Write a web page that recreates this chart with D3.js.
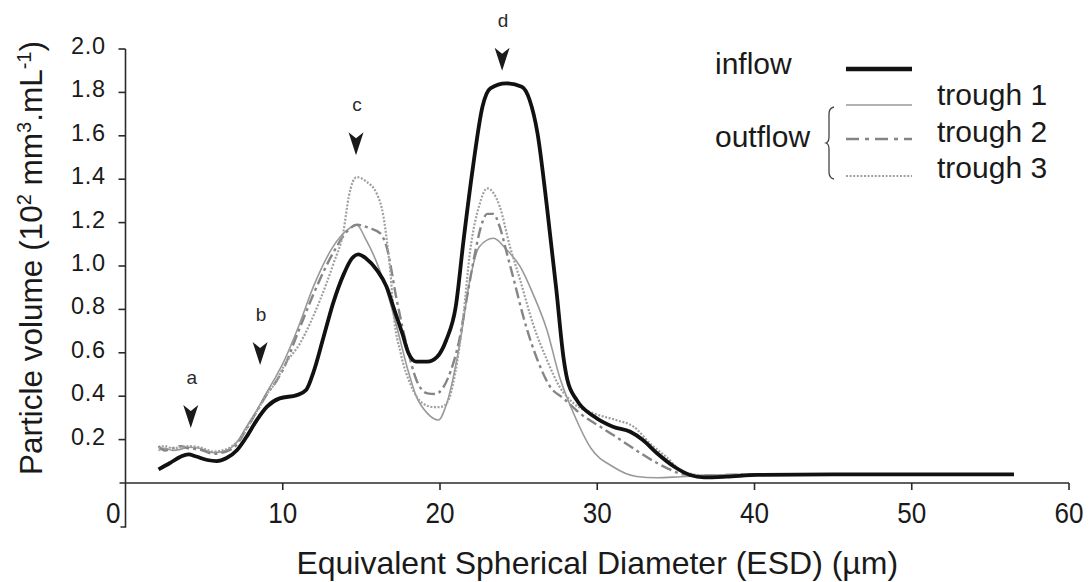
<!DOCTYPE html>
<html><head><meta charset="utf-8">
<script src="https://cdn.jsdelivr.net/npm/d3@7"></script>
<style>
body{margin:0;background:#fff;}
svg{display:block;font-family:"Liberation Sans",Arial,Helvetica,sans-serif;}
</style></head>
<body><svg id="c" width="1091" height="582"></svg>
<script>
// ---- data ----
const xTicks = [0, 10, 20, 30, 40, 50, 60];
const yTicks = [0.2, 0.4, 0.6, 0.8, 1.0, 1.2, 1.4, 1.6, 1.8, 2.0];

const inflowX = [2.1, 2.8, 3.5, 4.0, 4.5, 5.2, 5.8, 6.4, 7.1, 7.7, 8.35, 9.0, 9.8, 10.9, 11.5, 11.95, 12.6, 13.2, 13.9, 14.4, 14.8, 15.3, 16.0, 16.6, 17.1, 17.6, 18.0, 18.5, 19.2, 19.8, 20.4, 21.0, 21.5, 22.1, 22.7, 23.2, 24.2, 25.2, 25.7, 26.2, 26.8, 27.4, 27.85, 28.1, 28.7, 29.8, 31.0, 32.1, 32.9, 33.8, 34.9, 35.9, 36.8, 38.2, 40.2, 45, 50, 56.5];
const inflowV = [0.063, 0.091, 0.121, 0.132, 0.122, 0.106, 0.101, 0.114, 0.152, 0.213, 0.29, 0.352, 0.39, 0.405, 0.43, 0.51, 0.674, 0.828, 0.966, 1.035, 1.054, 1.035, 0.98, 0.905, 0.797, 0.69, 0.598, 0.559, 0.559, 0.58, 0.659, 0.812, 1.12, 1.458, 1.734, 1.819, 1.842, 1.826, 1.765, 1.612, 1.273, 0.889, 0.58, 0.475, 0.382, 0.306, 0.259, 0.236, 0.198, 0.137, 0.075, 0.037, 0.026, 0.029, 0.037, 0.04, 0.04, 0.04];

const trough1X = [2.1, 2.5, 3.0, 3.5, 4.0, 4.7, 5.6, 6.4, 7.1, 7.7, 8.35, 9.0, 9.6, 10.0, 11.0, 11.95, 13.2, 14.1, 14.7, 15.3, 16.0, 16.6, 17.25, 17.9, 18.5, 19.2, 19.9, 20.4, 21.3, 21.9, 22.5, 23.4, 24.25, 25.1, 25.9, 26.8, 27.6, 28.5, 29.6, 31.0, 32.5, 33.8, 35.3, 37, 40, 45, 50, 56.5];
const trough1V = [0.15, 0.16, 0.15, 0.155, 0.165, 0.16, 0.14, 0.15, 0.19, 0.26, 0.336, 0.42, 0.495, 0.55, 0.72, 0.905, 1.089, 1.166, 1.189, 1.12, 1.012, 0.889, 0.72, 0.536, 0.398, 0.321, 0.29, 0.36, 0.66, 0.935, 1.089, 1.128, 1.074, 0.997, 0.874, 0.705, 0.49, 0.32, 0.16, 0.075, 0.03, 0.024, 0.029, 0.035, 0.04, 0.04, 0.04, 0.04];

const trough2X = [2.1, 2.5, 3.0, 3.5, 4.0, 4.7, 5.6, 6.4, 7.1, 7.7, 8.35, 9.0, 9.6, 10.0, 11.0, 11.95, 13.2, 14.1, 14.7, 15.5, 16.2, 16.6, 17.25, 17.9, 18.5, 19.2, 19.7, 20.2, 20.7, 21.2, 21.7, 22.2, 22.6, 23.0, 23.4, 23.8, 24.25, 24.7, 25.3, 26.2, 27.0, 27.85, 28.9, 30.2, 31.5, 32.7, 33.6, 34.4, 35.5, 37, 40, 45, 50, 56.5];
const trough2V = [0.17, 0.15, 0.16, 0.17, 0.16, 0.155, 0.135, 0.145, 0.18, 0.25, 0.33, 0.41, 0.47, 0.52, 0.7, 0.87, 1.06, 1.16, 1.19, 1.175, 1.15, 1.089, 0.843, 0.628, 0.475, 0.413, 0.41, 0.44, 0.52, 0.65, 0.85, 1.05, 1.18, 1.24, 1.24, 1.18, 1.059, 0.935, 0.766, 0.567, 0.444, 0.39, 0.321, 0.259, 0.198, 0.14, 0.1, 0.07, 0.04, 0.035, 0.04, 0.04, 0.04, 0.04];

const trough3X = [2.1, 2.5, 3.0, 3.5, 4.0, 4.7, 5.6, 6.4, 7.1, 7.7, 8.35, 9.0, 9.6, 10.0, 11.1, 12.37, 13.22, 13.86, 14.2, 14.7, 15.3, 16.0, 16.4, 16.65, 16.85, 17.05, 17.5, 18.1, 18.9, 19.6, 20.0, 20.45, 20.95, 21.5, 21.9, 22.5, 23.0, 23.8, 24.45, 25.1, 25.9, 26.8, 27.6, 28.5, 29.8, 31.2, 32.3, 33.4, 34.4, 35.5, 37, 40, 45, 50, 56.5];
const trough3V = [0.16, 0.17, 0.16, 0.165, 0.17, 0.165, 0.145, 0.155, 0.19, 0.25, 0.33, 0.41, 0.47, 0.53, 0.644, 0.843, 1.01, 1.16, 1.32, 1.41, 1.39, 1.33, 1.23, 1.1, 0.966, 0.782, 0.598, 0.459, 0.367, 0.35, 0.35, 0.37, 0.5, 0.78, 1.06, 1.28, 1.358, 1.274, 1.089, 0.935, 0.736, 0.567, 0.444, 0.367, 0.32, 0.29, 0.26, 0.18, 0.12, 0.05, 0.035, 0.04, 0.04, 0.04, 0.04];

const markerLabels = ["a", "b", "c", "d"];
const markerX = [4.15, 8.56, 14.66, 23.95];
const markerV = [0.253, 0.544, 1.51, 1.90];

const legendNames = ["inflow", "trough 1", "trough 2", "trough 3"];

// ---- drawing ----
const svg = d3.select("#c");
const x = d3.scaleLinear().domain([0, 60]).range([125.5, 1069]);
const y = d3.scaleLinear().domain([0, 2]).range([483, 49]);
const axisColor = "#2a2a2a";
const textColor = "#1a1a1a";

// y axis line (extends below the x axis, bracket-like)
svg.append("path").attr("d", `M${x(0)},${y(2)}V527H${x(0) - 5}`)
  .attr("fill", "none").attr("stroke", axisColor).attr("stroke-width", 1.6);
// x axis line
svg.append("line").attr("x1", x(0) - 6).attr("x2", x(60)).attr("y1", y(0)).attr("y2", y(0))
  .attr("stroke", axisColor).attr("stroke-width", 1.6);

// y ticks
const yt = svg.append("g");
yt.selectAll("line").data(yTicks).join("line")
  .attr("x1", x(0) - 7).attr("x2", x(0)).attr("y1", d => y(d)).attr("y2", d => y(d))
  .attr("stroke", axisColor).attr("stroke-width", 1.6);
yt.selectAll("text").data(yTicks).join("text")
  .attr("x", 106).attr("y", d => y(d) + 5)
  .attr("text-anchor", "end").attr("font-size", 23.5).attr("fill", textColor)
  .attr("letter-spacing", 0.8)
  .text(d => d3.format(".1f")(d));

// x ticks
const xt = svg.append("g");
xt.selectAll("line").data(xTicks.filter(d => d > 0)).join("line")
  .attr("x1", d => x(d)).attr("x2", d => x(d)).attr("y1", y(0)).attr("y2", y(0) + 7)
  .attr("stroke", axisColor).attr("stroke-width", 1.6);
xt.selectAll("text").data(xTicks).join("text")
  .attr("x", d => d === 0 ? x(0) - 5 : x(d))
  .attr("y", 523)
  .attr("text-anchor", d => d === 0 ? "end" : "middle")
  .attr("font-size", 29).attr("fill", textColor)
  .attr("transform", d => { const cx = d === 0 ? x(0) - 5 : x(d); return `translate(${cx},0) scale(0.9,1) translate(${-cx},0)`; })
  .text(d => d);

// axis titles
svg.append("text").attr("x", (x(0) + x(60)) / 2 + 0).attr("y", 574)
  .attr("text-anchor", "middle").attr("font-size", 32).attr("fill", textColor)
  .text("Equivalent Spherical Diameter (ESD) (µm)");

const yl = svg.append("text").attr("transform", "translate(42,258) rotate(-90)")
  .attr("text-anchor", "middle").attr("font-size", 31.5).attr("fill", textColor);
yl.append("tspan").text("Particle volume (10");
yl.append("tspan").attr("dy", -11).attr("font-size", 20).text("2");
yl.append("tspan").attr("dy", 11).text(" mm");
yl.append("tspan").attr("dy", -11).attr("font-size", 20).text("3");
yl.append("tspan").attr("dy", 11).text(".mL");
yl.append("tspan").attr("dy", -11).attr("font-size", 20).text("-1");
yl.append("tspan").attr("dy", 11).text(")");

// series
const styles = [
  {stroke: "#111", width: 3.8, dash: null},
  {stroke: "#999", width: 1.6, dash: null},
  {stroke: "#858585", width: 2.4, dash: "11,4,3,4"},
  {stroke: "#a0a0a0", width: 2.2, dash: "2,1.6"}
];
const seriesX = [inflowX, trough1X, trough2X, trough3X];
const seriesV = [inflowV, trough1V, trough2V, trough3V];
const line = d3.line().x(d => x(d[0])).y(d => y(d[1])).curve(d3.curveMonotoneX);
const drawOrder = [1, 2, 3, 0];
drawOrder.forEach(i => {
  const pts = seriesX[i].map((d, k) => [d, seriesV[i][k]]);
  svg.append("path").attr("d", line(pts)).attr("fill", "none")
    .attr("stroke", styles[i].stroke).attr("stroke-width", styles[i].width)
    .attr("stroke-dasharray", styles[i].dash).attr("stroke-linejoin", "round");
});

// markers
const mk = svg.append("g");
markerLabels.forEach((lab, i) => {
  const tx = x(markerX[i]), ty = y(markerV[i]);
  mk.append("path").attr("d", `M${tx},${ty}L${tx - 7.5},${ty - 23}L${tx},${ty - 17}L${tx + 7.5},${ty - 23}Z`)
    .attr("fill", "#1a1a1a");
  mk.append("text").attr("x", tx + 1).attr("y", ty - 44).attr("text-anchor", "middle")
    .attr("font-size", 19).attr("fill", "#2a2a2a").text(lab);
});

// legend
const lg = svg.append("g").attr("font-size", 30).attr("fill", textColor);
lg.append("text").attr("x", 715).attr("y", 74).attr("fill", textColor).text(legendNames[0]);
lg.append("text").attr("x", 715).attr("y", 147).attr("fill", textColor).text("outflow");
const legY = [69, 105, 139, 176];
const legTextY = [null, 105, 142, 178];
legY.forEach((ly, i) => {
  lg.append("line").attr("x1", 846).attr("x2", 912).attr("y1", ly).attr("y2", ly)
    .attr("stroke", styles[i].stroke).attr("stroke-width", i === 0 ? 4.4 : styles[i].width)
    .attr("stroke-dasharray", i === 2 ? "13,6,4,6" : styles[i].dash);
  if (i > 0) lg.append("text").attr("x", 937).attr("y", legTextY[i]).attr("fill", textColor).text(legendNames[i]);
});
// brace
lg.append("path").attr("d", "M834,107 Q829,108 829,114 L829,137 Q829,142 826,143 Q829,144 829,149 L829,172 Q829,178 834,179")
  .attr("fill", "none").attr("stroke", "#444").attr("stroke-width", 1.3);
</script></body></html>
